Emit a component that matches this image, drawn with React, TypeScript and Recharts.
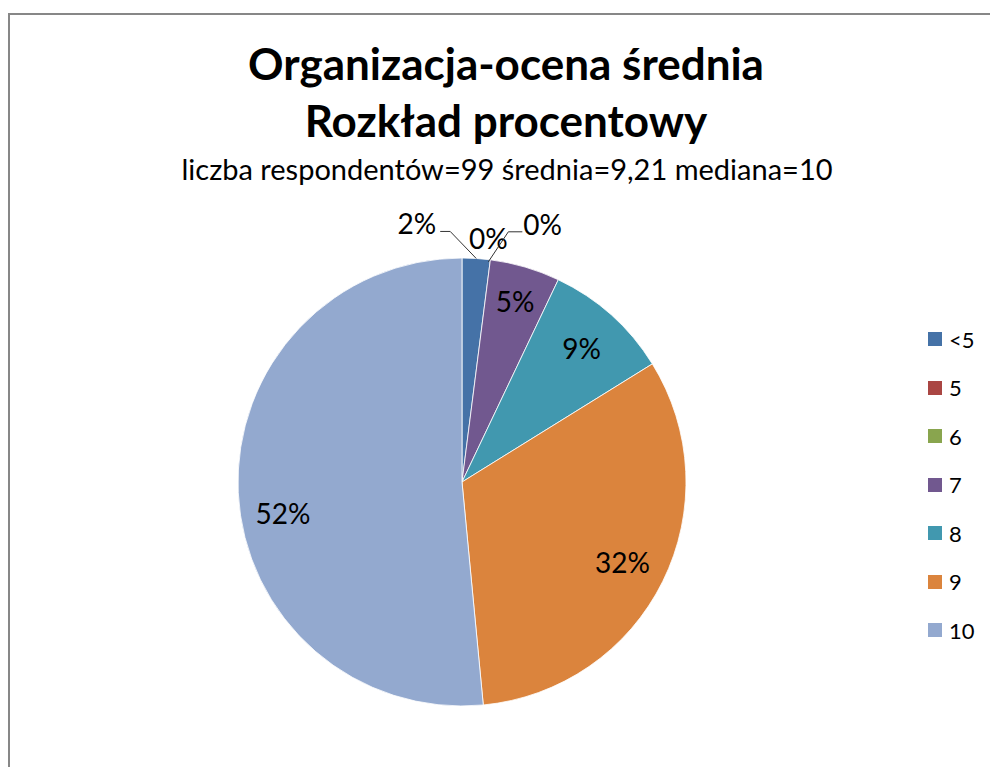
import React from 'react';
import { PieChart, Pie, Cell, Legend } from 'recharts';

const categories = ['<5', '5', '6', '7', '8', '9', '10'];
const respondents = [2, 0, 0, 5, 9, 32, 51];
const colors = ['#4572A7', '#AA4643', '#89A54E', '#71588F', '#4198AF', '#DB843D', '#93A9CF'];
const titleLines = ['Organizacja-ocena średnia', 'Rozkład procentowy'];
const subtitle = 'liczba respondentów=99 średnia=9,21 mediana=10';

const data = categories.map((name, i) => ({ name, value: respondents[i] }));

const RAD = Math.PI / 180;
const FONT = 'Lato, "Open Sans", sans-serif';

// excel-like label placement: small slices get labels outside with leader lines
const renderLabel = (props: any) => {
  const { cx, cy, midAngle, outerRadius, percent, index } = props;
  const text = `${Math.round(percent * 100)}%`;
  const cos = Math.cos(-midAngle * RAD);
  const sin = Math.sin(-midAngle * RAD);
  const ex = cx + outerRadius * cos;
  const ey = cy + outerRadius * sin;
  const txt = { fontSize: 28, fill: '#000', fontFamily: FONT };

  if (index === 0) {
    return (
      <g key={`l-${index}`}>
        <polyline
          points={`${ex},${ey} ${ex - 26},${ey - 27} ${ex - 36},${ey - 27}`}
          stroke="#333"
          fill="none"
          strokeWidth={1}
        />
        <text x={ex - 40} y={ey - 35} textAnchor="end" dominantBaseline="central" {...txt}>
          {text}
        </text>
      </g>
    );
  }
  if (index === 1) {
    return (
      <text key={`l-${index}`} x={ex - 2} y={ey - 22} textAnchor="middle" dominantBaseline="central" {...txt}>
        {text}
      </text>
    );
  }
  if (index === 2) {
    return (
      <g key={`l-${index}`}>
        <polyline
          points={`${ex - 2},${ey + 2} ${ex + 18},${ey - 28} ${ex + 32},${ey - 28}`}
          stroke="#333"
          fill="none"
          strokeWidth={1}
        />
        <text x={ex + 33} y={ey - 36} textAnchor="start" dominantBaseline="central" {...txt}>
          {text}
        </text>
      </g>
    );
  }
  const r = outerRadius * (index === 3 ? 0.84 : 0.8);
  const extraDy = index === 6 ? 22 : 0;
  return (
    <text
      key={`l-${index}`}
      x={cx + r * cos}
      y={cy + r * sin + extraDy}
      textAnchor="middle"
      dominantBaseline="central"
      {...txt}
    >
      {text}
    </text>
  );
};

const renderLegend = (props: any) => {
  const items = [...(props.payload || [])].sort(
    (a: any, b: any) => categories.indexOf(a.value) - categories.indexOf(b.value)
  );
  return (
    <div style={{ fontFamily: FONT, fontSize: 22, color: '#000' }}>
      {items.map((entry: any, i: number) => (
        <div key={i} style={{ display: 'flex', alignItems: 'center', height: 48.5 }}>
          <span style={{ display: 'inline-block', width: 14, height: 14, background: entry.color, marginRight: 7 }} />
          <span>{entry.value}</span>
        </div>
      ))}
    </div>
  );
};

const titleStyle: React.CSSProperties = {
  position: 'absolute',
  left: 0,
  width: 996,
  textAlign: 'center',
  fontFamily: FONT,
  fontWeight: 700,
  fontSize: 44,
  lineHeight: '53px',
  whiteSpace: 'nowrap',
};

export default function App() {
  return (
    <div
      style={{
        position: 'fixed',
        left: 8,
        top: 8,
        width: 982,
        height: 759,
        overflow: 'hidden',
        background: '#fff',
      }}
    >
      <div
        style={{
          position: 'absolute',
          left: 0,
          top: 5,
          right: 0,
          bottom: 0,
          borderTop: '2px solid #878787',
          borderLeft: '2px solid #878787',
        }}
      />
      <div style={{ ...titleStyle, top: 28.6 }}>{titleLines[0]}</div>
      <div style={{ ...titleStyle, top: 85.6 }}>{titleLines[1]}</div>
      <div
        style={{
          position: 'absolute',
          left: 0,
          width: 998,
          top: 143.4,
          textAlign: 'center',
          fontFamily: FONT,
          fontSize: 29,
          lineHeight: '35px',
          whiteSpace: 'nowrap',
        }}
      >
        {subtitle}
      </div>
      <div style={{ position: 'absolute', left: 0, top: 0 }}>
        <PieChart width={982} height={759} margin={{ top: 0, right: 0, bottom: 0, left: 0 }}>
          <Pie
            data={data}
            dataKey="value"
            nameKey="name"
            cx={454}
            cy={474}
            outerRadius={224}
            startAngle={90}
            endAngle={-270}
            stroke="#fff"
            strokeWidth={0.8}
            label={renderLabel}
            labelLine={false}
            isAnimationActive={false}
          >
            {data.map((d, i) => (
              <Cell key={d.name} fill={colors[i]} />
            ))}
          </Pie>
          <Legend
            layout="vertical"
            content={renderLegend}
            wrapperStyle={{ position: 'absolute', left: 920, top: 307, width: 60 }}
          />
        </PieChart>
      </div>
    </div>
  );
}
